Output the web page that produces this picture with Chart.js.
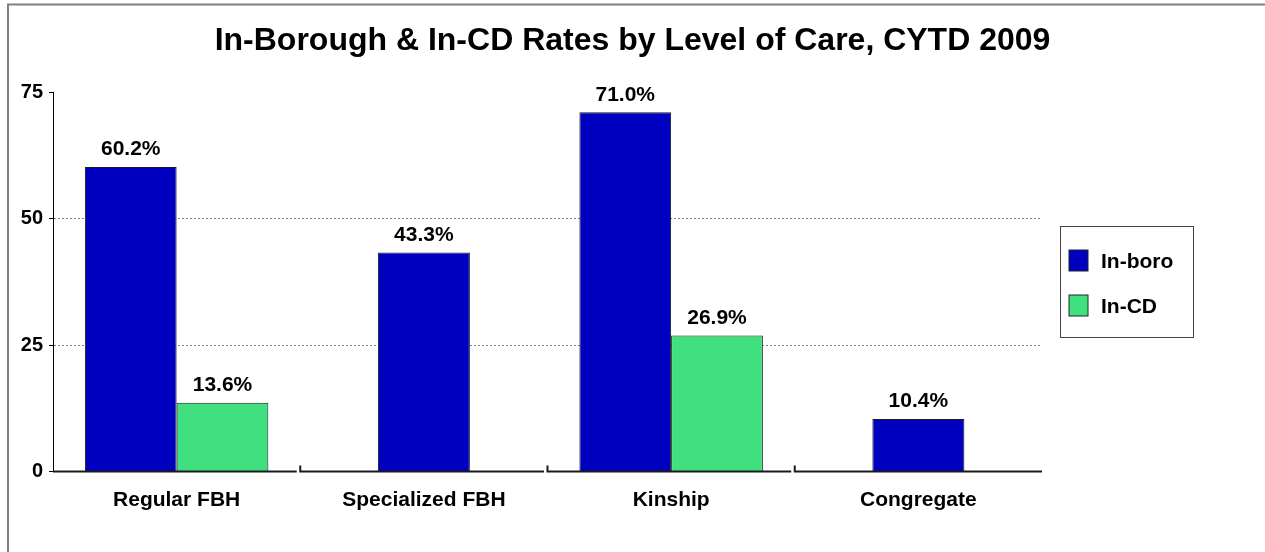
<!DOCTYPE html>
<html>
<head>
<meta charset="utf-8">
<script src="https://cdn.jsdelivr.net/npm/chart.js@4.4.1/dist/chart.umd.min.js"></script>
<style>
  html, body { margin: 0; padding: 0; background: #ffffff; }
  #wrap { width: 1265px; height: 552px; position: relative; }
</style>
</head>
<body>
<div id="wrap"><canvas id="c" width="1265" height="552"></canvas></div>
<script>
// ---- data ----
const categories = ['Regular FBH', 'Specialized FBH', 'Kinship', 'Congregate'];
const inBoro = [60.2, 43.3, 71.0, 10.4];
const inCD = [13.6, null, 26.9, null];
const seriesNames = ['In-boro', 'In-CD'];
const yTicks = [0, 25, 50, 75];
const titleText = 'In-Borough & In-CD Rates by Level of Care, CYTD 2009';

// ---- styles ----
const FONT = '"Liberation Sans", Arial, Helvetica, sans-serif';
const colors = ['#0000C0', '#40E080'];

Chart.defaults.font.family = FONT;
Chart.defaults.color = '#000';

const framePlugin = {
  id: 'frame',
  beforeDraw(chart) {
    const ctx = chart.ctx;
    ctx.save();
    ctx.fillStyle = '#fff';
    ctx.fillRect(0, 0, chart.width, chart.height);
    ctx.strokeStyle = '#808080';
    ctx.lineWidth = 2;
    ctx.beginPath();
    ctx.moveTo(8, chart.height);
    ctx.lineTo(8, 4.5);
    ctx.lineTo(chart.width, 4.5);
    ctx.stroke();
    ctx.restore();
  }
};

const axisPlugin = {
  id: 'brokenAxis',
  afterDatasetsDraw(chart) {
    const ctx = chart.ctx;
    const x = chart.scales.x;
    const y0 = chart.scales.y.getPixelForValue(0);
    const n = categories.length;
    const w = (x.right - x.left) / n;
    ctx.save();
    ctx.strokeStyle = '#1a1a1a';
    ctx.lineWidth = 2;
    for (let i = 0; i < n; i++) {
      const start = x.getPixelForValue(i) - w / 2;
      const end = (i === n - 1) ? x.right : start + w - 3.5;
      ctx.beginPath();
      if (i > 0) {
        ctx.moveTo(start, y0 - 6);
        ctx.lineTo(start, y0);
      } else {
        ctx.moveTo(start, y0);
      }
      ctx.lineTo(end, y0);
      ctx.stroke();
    }
    ctx.restore();
  }
};

const labelPlugin = {
  id: 'valueLabels',
  afterDatasetsDraw(chart) {
    const ctx = chart.ctx;
    ctx.save();
    ctx.font = 'bold 21px ' + FONT;
    ctx.fillStyle = '#000';
    ctx.textAlign = 'center';
    ctx.textBaseline = 'alphabetic';
    chart.data.datasets.forEach((ds, di) => {
      const meta = chart.getDatasetMeta(di);
      meta.data.forEach((el, i) => {
        const v = ds.data[i];
        if (v === null || v === undefined) return;
        ctx.fillText(v.toFixed(1) + '%', el.x, el.y - 11.5);
      });
    });
    ctx.restore();
  }
};

const legendPlugin = {
  id: 'boxLegend',
  afterDraw(chart) {
    const ctx = chart.ctx;
    const area = chart.chartArea;
    const bx = 1060.5, bw = 133, bh = 111;
    const by = Math.round((area.top + area.bottom) / 2 - bh / 2) + 0.5;
    ctx.save();
    ctx.strokeStyle = '#444';
    ctx.lineWidth = 1;
    ctx.strokeRect(bx, by, bw, bh);
    ctx.font = 'bold 21px ' + FONT;
    ctx.textAlign = 'left';
    ctx.textBaseline = 'alphabetic';
    chart.data.datasets.forEach((ds, i) => {
      const sy = by + 23.5 + i * 45;
      ctx.fillStyle = ds.backgroundColor;
      ctx.fillRect(bx + 8.5, sy, 19, 21);
      ctx.strokeStyle = '#222';
      ctx.strokeRect(bx + 8.5, sy, 19, 21);
      ctx.fillStyle = '#000';
      ctx.fillText(ds.label, bx + 40.5, sy + 18);
    });
    ctx.restore();
  }
};

new Chart(document.getElementById('c'), {
  type: 'bar',
  data: {
    labels: categories,
    datasets: [
      { label: seriesNames[0], data: inBoro, backgroundColor: colors[0] },
      { label: seriesNames[1], data: inCD, backgroundColor: colors[1] }
    ]
  },
  options: {
    responsive: false,
    animation: false,
    devicePixelRatio: 1,
    layout: { padding: { left: 0, right: 0, top: 0, bottom: 0 } },
    datasets: {
      bar: {
        categoryPercentage: 0.742,
        barPercentage: 1,
        maxBarThickness: 92,
        skipNull: true,
        borderColor: '#1a1a1a',
        borderWidth: 1,
        borderSkipped: 'bottom'
      }
    },
    plugins: {
      legend: { display: false },
      tooltip: { enabled: false },
      title: {
        display: true,
        text: titleText,
        color: '#000',
        font: { size: 32, weight: 'bold', family: FONT, lineHeight: 1.2 },
        padding: { top: 22, bottom: 31.6 }
      }
    },
    scales: {
      x: {
        grid: { display: false, drawTicks: false },
        border: { display: false },
        ticks: { color: '#000', font: { size: 21, weight: 'bold' }, padding: 16, maxRotation: 0 },
        afterFit(s) { s.height = 552 - 471.5; }
      },
      y: {
        min: 0,
        max: 75,
        afterBuildTicks(s) { s.ticks = yTicks.map(v => ({ value: v })); },
        grid: {
          color: (c) => (c.tick && (c.tick.value === 0 || c.tick.value === 75)) ? 'rgba(0,0,0,0)' : '#808080',
          lineWidth: 1,
          tickLength: 4,
          tickColor: '#000',
          tickBorderDash: []
        },
        border: { display: true, color: '#000', width: 1, dash: [2, 2] },
        ticks: { color: '#000', font: { size: 20, weight: 'bold' }, padding: 6 },
        afterFit(s) { s.width = 53; }
      },
      yR: {
        position: 'right',
        display: true,
        grid: { display: false, drawTicks: false },
        border: { display: false },
        ticks: { display: false },
        afterFit(s) { s.width = 1265 - 1042; }
      }
    }
  },
  plugins: [framePlugin, axisPlugin, labelPlugin, legendPlugin]
});
</script>
</body>
</html>
